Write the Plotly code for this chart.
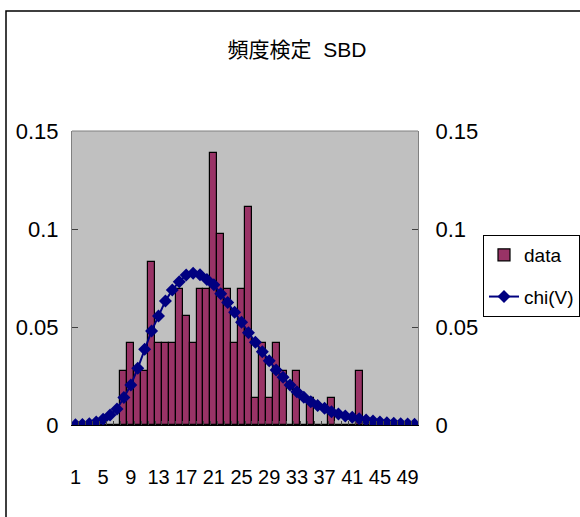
import plotly.graph_objects as go

categories = list(range(1, 51))
data_values = [0, 0, 0, 0, 0, 0, 0, 0.0278, 0.0417, 0.0278,
               0.0278, 0.0833, 0.0417, 0.0417, 0.0417, 0.0694, 0.0556, 0.0417, 0.0694, 0.0694,
               0.1389, 0.0972, 0.0694, 0.0417, 0.0694, 0.1111, 0.0139, 0.0417, 0.0139, 0.0417,
               0.0278, 0, 0.0278, 0, 0.0139, 0, 0, 0.0139, 0, 0,
               0, 0.0278, 0, 0, 0, 0, 0, 0, 0, 0]
chi_values = [0.0001, 0.0003, 0.0006, 0.0015, 0.0029, 0.0051, 0.0082, 0.0140, 0.0204, 0.0289,
              0.0386, 0.0480, 0.0556, 0.0633, 0.0689, 0.0731, 0.0765, 0.0774, 0.0767, 0.0742,
              0.0716, 0.0670, 0.0625, 0.0575, 0.0524, 0.0471, 0.0422, 0.0374, 0.0328, 0.0281,
              0.0243, 0.0204, 0.0170, 0.0141, 0.0119, 0.0099, 0.0085, 0.0068, 0.0056, 0.0046,
              0.0039, 0.0032, 0.0026, 0.0020, 0.0015, 0.0012, 0.0009, 0.0007, 0.0005, 0.0004]
x_tick_labels = [1, 5, 9, 13, 17, 21, 25, 29, 33, 37, 41, 45, 49]
y_ticks = [0, 0.05, 0.1, 0.15]

FONT = "Liberation Sans, Arial, sans-serif"

fig = go.Figure()
fig.add_trace(go.Bar(
    x=categories, y=data_values, name="data",
    marker=dict(color="#993366", line=dict(color="#000000", width=1.2)),
    legendgroup="a",
))
fig.add_trace(go.Scatter(
    x=categories, y=chi_values, name="chi(V)", mode="lines+markers",
    line=dict(color="#000080", width=2),
    marker=dict(symbol="diamond", size=10, color="#000080"),
    legendgroup="b",
))
# invisible trace to drive the right-hand axis labels
fig.add_trace(go.Scatter(x=[categories[0]], y=[0], yaxis="y2", mode="markers",
                         marker=dict(opacity=0), showlegend=False, hoverinfo="skip"))

fig.update_layout(
    width=580, height=517,
    margin=dict(l=72, r=162, t=131, b=92, autoexpand=False),
    paper_bgcolor="white",
    plot_bgcolor="#C0C0C0",
    bargap=0,
    font=dict(family=FONT, size=22, color="#000000"),
    title=dict(text="頻度検定  SBD", x=0.512, xanchor="center", y=0.903, yanchor="middle",
               font=dict(family="Liberation Sans, Noto Sans CJK JP, sans-serif", size=21)),
    xaxis=dict(
        range=[0.5, 50.5], tickmode="array", tickvals=x_tick_labels,
        ticktext=[str(v) for v in x_tick_labels], ticks="", showgrid=False,
        showline=True, linecolor="#000000", linewidth=1, zeroline=False,
        tickangle=0, automargin=False, tickfont=dict(size=20),
        ticklabelstandoff=34,
        minor=dict(tickmode="array", tickvals=[c + 0.5 for c in categories[:-1]],
                   ticks="inside", ticklen=4, tickcolor="#404040", showgrid=False),
    ),
    yaxis=dict(
        range=[0, 0.15], tickmode="array", tickvals=y_ticks, ticks="inside", ticklen=6,
        tickcolor="#404040", showgrid=False, zeroline=False, showline=True,
        linecolor="#808080", linewidth=1, ticklabelstandoff=8, automargin=False,
    ),
    yaxis2=dict(
        range=[0, 0.15], tickmode="array", tickvals=y_ticks, ticks="inside", ticklen=6,
        tickcolor="#404040", overlaying="y", side="right", showgrid=False, zeroline=False,
        showline=True, linecolor="#808080", linewidth=1, ticklabelstandoff=12,
        automargin=False,
    ),
    legend=dict(
        x=(483 - 72) / 346, y=(425 - 235) / 294, xanchor="left", yanchor="top",
        bgcolor="white", bordercolor="#000000", borderwidth=1,
        font=dict(family=FONT, size=19), tracegroupgap=14,
    ),
    shapes=[
        dict(type="line", xref="paper", yref="paper", x0=0, x1=1, y0=1, y1=1,
             line=dict(color="#808080", width=1)),
        dict(type="rect", xref="paper", yref="paper",
             x0=(6 - 72) / 346, x1=(600 - 72) / 346, y0=(425 - 540) / 294, y1=(425 - 11) / 294,
             line=dict(color="#000000", width=1.5), layer="below"),
    ],
)

fig.write_html("out.html")
